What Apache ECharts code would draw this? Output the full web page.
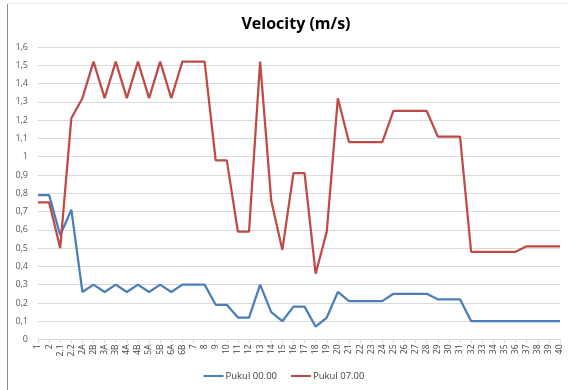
<!DOCTYPE html>
<html>
<head>
<meta charset="utf-8">
<script src="https://cdn.jsdelivr.net/npm/echarts@6/dist/echarts.min.js"></script>
<style>
  html, body { margin: 0; padding: 0; background: #fff; }
  #chart { width: 568px; height: 390px; }
</style>
</head>
<body>
<div id="chart"></div>
<script>
// Measurement points along the channel
const stations = ['1', '2', '2.1', '2.2', '2A', '2B', '3A', '3B', '4A', '4B', '5A', '5B', '6A', '6B',
  '7', '8', '9', '10', '11', '12', '13', '14', '15', '16', '17', '18', '19', '20', '21', '22', '23',
  '24', '25', '26', '27', '28', '29', '30', '31', '32', '33', '34', '35', '36', '37', '38', '39', '40'];

// Velocity at 00.00
const pukul0000 = [0.79, 0.79, 0.57, 0.71, 0.26, 0.30, 0.26, 0.30, 0.26, 0.30, 0.26, 0.30, 0.26, 0.30,
  0.30, 0.30, 0.19, 0.19, 0.12, 0.12, 0.30, 0.15, 0.10, 0.18, 0.18, 0.07, 0.12, 0.26, 0.21, 0.21, 0.21,
  0.21, 0.25, 0.25, 0.25, 0.25, 0.22, 0.22, 0.22, 0.10, 0.10, 0.10, 0.10, 0.10, 0.10, 0.10, 0.10, 0.10];

// Velocity at 07.00
const pukul0700 = [0.75, 0.75, 0.50, 1.21, 1.32, 1.52, 1.32, 1.52, 1.32, 1.52, 1.32, 1.52, 1.32, 1.52,
  1.52, 1.52, 0.98, 0.98, 0.59, 0.59, 1.52, 0.76, 0.49, 0.91, 0.91, 0.36, 0.59, 1.32, 1.08, 1.08, 1.08,
  1.08, 1.25, 1.25, 1.25, 1.25, 1.11, 1.11, 1.11, 0.48, 0.48, 0.48, 0.48, 0.48, 0.51, 0.51, 0.51, 0.51];

const seriesNames = ['Pukul 00.00', 'Pukul 07.00'];
const chartTitle = 'Velocity (m/s)';

const FONT = '"Open Sans", "Liberation Sans", sans-serif';
const chart = echarts.init(document.getElementById('chart'), null, { renderer: 'canvas' });

chart.setOption({
  backgroundColor: '#ffffff',
  animation: false,
  title: {
    text: chartTitle,
    left: 291,
    textAlign: 'center',
    top: 11,
    textStyle: { fontFamily: FONT, fontSize: 16, fontWeight: 'bold', color: '#000' }
  },
  legend: {
    bottom: 4,
    left: 'center',
    itemWidth: 20,
    itemHeight: 2,
    itemGap: 14,
    icon: 'rect',
    textStyle: { fontFamily: FONT, fontSize: 9.5, color: '#404040', padding: [0, 0, 0, -3] },
    data: seriesNames
  },
  grid: { left: 38, right: 8, top: 47, bottom: 50.5, containLabel: false },
  xAxis: {
    type: 'category',
    data: stations,
    boundaryGap: false,
    axisLine: { lineStyle: { color: '#d9d9d9', width: 1 } },
    axisTick: { show: true, alignWithLabel: true, length: 4, lineStyle: { color: '#d9d9d9' } },
    axisLabel: {
      interval: 0,
      rotate: 90,
      margin: 5,
      fontFamily: FONT,
      fontSize: 8.5,
      color: '#404040'
    },
    splitLine: { show: false }
  },
  yAxis: {
    type: 'value',
    min: 0,
    max: 1.6,
    interval: 0.1,
    axisLine: { show: false },
    axisTick: { show: false },
    axisLabel: {
      margin: 10,
      fontFamily: FONT,
      fontSize: 9,
      color: '#595959',
      formatter: v => (Math.round(v * 10) / 10).toString().replace('.', ',')
    },
    splitLine: { lineStyle: { color: '#d9d9d9', width: 1 } }
  },
  graphic: [
    { type: 'line', shape: { x1: 7.5, y1: 3, x2: 7.5, y2: 390 }, style: { stroke: '#8c8c8c', lineWidth: 1 } },
    { type: 'line', shape: { x1: 7, y1: 3.5, x2: 568, y2: 3.5 }, style: { stroke: '#ececec', lineWidth: 1 } }
  ],
  series: [
    {
      name: seriesNames[0],
      type: 'line',
      data: pukul0000,
      symbol: 'none',
      color: '#4a7ebb',
      lineStyle: { width: 2.25, color: '#4a7ebb' }
    },
    {
      name: seriesNames[1],
      type: 'line',
      data: pukul0700,
      symbol: 'none',
      color: '#be4b48',
      lineStyle: { width: 2.25, color: '#be4b48' }
    }
  ]
});
</script>
</body>
</html>
